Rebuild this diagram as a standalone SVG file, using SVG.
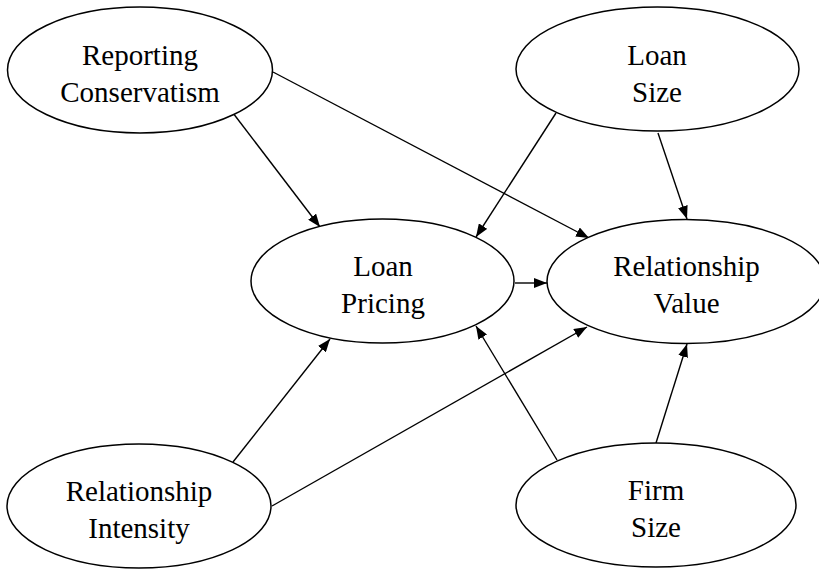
<svg xmlns="http://www.w3.org/2000/svg" width="819" height="569" viewBox="0 0 819 569">
<style>
  .node ellipse { fill: #ffffff; stroke: #000000; stroke-width: 1.5; }
  .node text { font-family: "Liberation Serif", "Times New Roman", serif; font-size: 29px; fill: #000000; text-anchor: middle; }
  .edges line { stroke: #000000; stroke-width: 1.4; marker-end: url(#arrow); }
</style>
<defs>
  <marker id="arrow" viewBox="0 0 13 10" refX="13" refY="5" markerWidth="13" markerHeight="10" markerUnits="userSpaceOnUse" orient="auto">
    <path d="M0,0 L13,5 L0,10 z" fill="#000000"/>
  </marker>
</defs>
<rect width="819" height="569" fill="#ffffff"/>
<g class="edges" id="connectors">
  <line x1="233" y1="113" x2="320" y2="227"/>
  <line x1="273" y1="72" x2="589" y2="238"/>
  <line x1="556" y1="113" x2="476" y2="237"/>
  <line x1="658" y1="133" x2="687" y2="219"/>
  <line x1="515" y1="283" x2="547" y2="283"/>
  <line x1="233" y1="462" x2="330" y2="339"/>
  <line x1="272" y1="506" x2="587" y2="327"/>
  <line x1="557" y1="460" x2="476" y2="326"/>
  <line x1="656" y1="443" x2="687" y2="344"/>
</g>
<g class="node" id="reporting-conservatism">
  <ellipse cx="140" cy="70" rx="132.5" ry="63"/>
  <text x="140" y="65">Reporting</text>
  <text x="140" y="102">Conservatism</text>
</g>
<g class="node" id="loan-size">
  <ellipse cx="657.5" cy="69" rx="141.5" ry="62"/>
  <text x="657" y="65">Loan</text>
  <text x="657" y="102">Size</text>
</g>
<g class="node" id="loan-pricing">
  <ellipse cx="382.5" cy="281" rx="131.5" ry="62"/>
  <text x="383" y="276">Loan</text>
  <text x="383" y="313">Pricing</text>
</g>
<g class="node" id="relationship-value">
  <ellipse cx="686" cy="281.5" rx="139" ry="62"/>
  <text x="686.5" y="276">Relationship</text>
  <text x="686.5" y="313">Value</text>
</g>
<g class="node" id="relationship-intensity">
  <ellipse cx="139" cy="506" rx="132" ry="62"/>
  <text x="139" y="501">Relationship</text>
  <text x="139" y="538">Intensity</text>
</g>
<g class="node" id="firm-size">
  <ellipse cx="656" cy="505" rx="140" ry="62"/>
  <text x="656" y="500">Firm</text>
  <text x="656" y="537">Size</text>
</g>
</svg>
